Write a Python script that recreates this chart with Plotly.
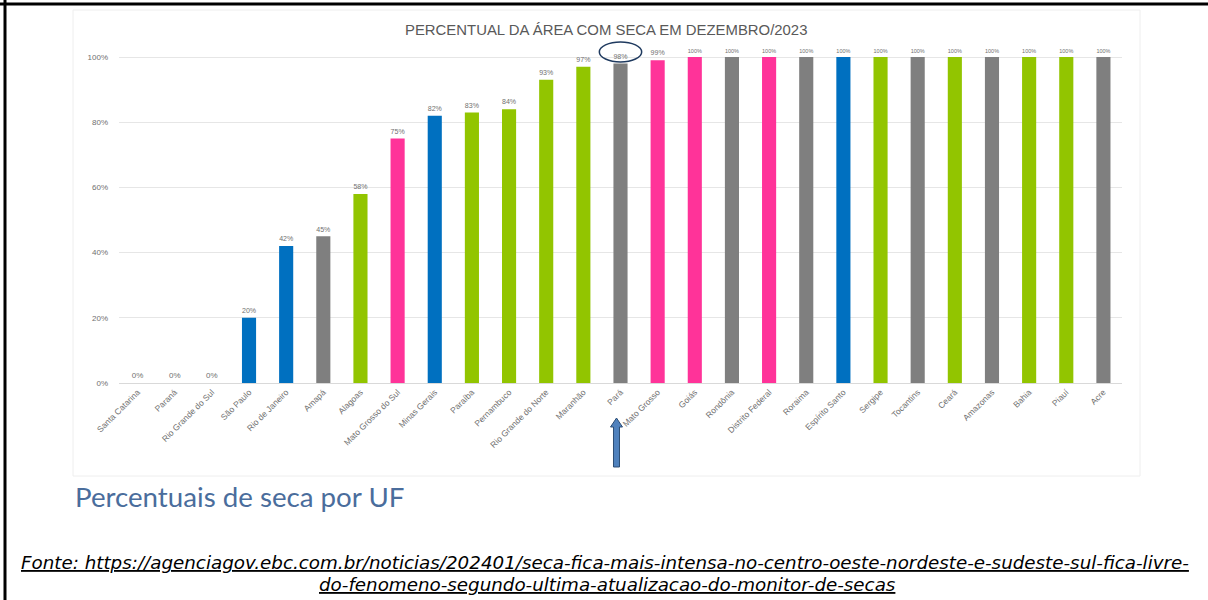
import plotly.graph_objects as go

W, H = 1208, 600

states = ["Santa Catarina", "Paraná", "Rio Grande do Sul", "São Paulo", "Rio de Janeiro",
          "Amapá", "Alagoas", "Mato Grosso do Sul", "Minas Gerais", "Paraíba",
          "Pernambuco", "Rio Grande do Norte", "Maranhão", "Pará", "Mato Grosso",
          "Goiás", "Rondônia", "Distrito Federal", "Roraima", "Espírito Santo",
          "Sergipe", "Tocantins", "Ceará", "Amazonas", "Bahia", "Piauí", "Acre"]
values = [0, 0, 0, 20, 42, 45, 58, 75, 82, 83, 84, 93, 97, 98, 99,
          100, 100, 100, 100, 100, 100, 100, 100, 100, 100, 100, 100]
regions = ["S", "S", "S", "SE", "SE", "N", "NE", "CO", "SE", "NE", "NE", "NE", "NE", "N", "CO",
           "CO", "N", "CO", "N", "SE", "NE", "N", "NE", "N", "NE", "NE", "N"]
region_colors = {"S": "#0070C0", "SE": "#0070C0", "N": "#7F7F7F", "NE": "#92C500", "CO": "#FF3399"}
y_ticks = [0, 20, 40, 60, 80, 100]
y_tick_labels = ["0%", "20%", "40%", "60%", "80%", "100%"]
highlight = "Pará"

colors = [region_colors[r] for r in regions]
labels = [f"{v}%" for v in values]

# layout geometry (pixels)
px_left, px_right = 119, 1122
py_zero, py_hundred = 383, 57
y_top_val = 112
py_top = py_zero - (py_zero - py_hundred) * y_top_val / 100
n = len(states)
step = (px_right - px_left) / n

fig = go.Figure(go.Bar(
    x=list(range(n)), y=values, marker_color=colors, marker_line_width=0,
    text=labels, textposition="outside", cliponaxis=False,
    textfont=dict(size=8, color="#707070", family="Liberation Sans"),
    width=0.38,
))

fig.update_layout(
    width=W, height=H, margin=dict(l=0, r=0, t=0, b=0, autoexpand=False),
    paper_bgcolor="white", plot_bgcolor="rgba(0,0,0,0)", showlegend=False,
    xaxis=dict(domain=[px_left / W, px_right / W], range=[-0.5, n - 0.5],
               tickmode="array", tickvals=list(range(n)), ticktext=states,
               tickangle=-45, tickfont=dict(size=8.5, color="#707070", family="Liberation Sans"),
               showgrid=False, showline=True, linecolor="#d9d9d9", linewidth=1,
               ticks="", zeroline=False, automargin=False),
    yaxis=dict(domain=[1 - py_zero / H, 1 - py_top / H], range=[0, y_top_val],
               tickmode="array", tickvals=y_ticks, ticktext=y_tick_labels,
               tickfont=dict(size=8, color="#707070", family="Liberation Sans"),
               showgrid=True, gridcolor="#e6e6e6", gridwidth=1, zeroline=False,
               showline=False, ticks="", ticklabelstandoff=10, automargin=False),
    bargap=0.6,
)

shapes = []
# faint frame of embedded chart image
shapes.append(dict(type="rect", xref="paper", yref="paper", layer="below",
                   x0=73 / W, x1=1140 / W, y0=1 - 476 / H, y1=1 - 10 / H,
                   line=dict(color="#eeeeee", width=1)))
# outer black frame lines (top and left)
shapes.append(dict(type="line", xref="paper", yref="paper", x0=0, x1=1,
                   y0=1 - 4 / H, y1=1 - 4 / H, line=dict(color="black", width=3)))
shapes.append(dict(type="line", xref="paper", yref="paper", x0=5 / W, x1=5 / W,
                   y0=0, y1=1, line=dict(color="black", width=3)))

hi = states.index(highlight)
hv = values[hi]
# ellipse around highlighted label
shapes.append(dict(type="circle", xref="x", yref="y",
                   x0=hi - 0.57, x1=hi + 0.57, y0=hv + 0.5, y1=hv + 6.6,
                   line=dict(color="#1f3a5f", width=1.5)))

# block arrow pointing to highlighted category
cx = px_left + (hi + 0.5) * step - 4
tip, bottom = 418, 467
hw, sw, hh = 6, 3, 9
pts = [(cx, tip), (cx + hw, tip + hh), (cx + sw, tip + hh), (cx + sw, bottom),
       (cx - sw, bottom), (cx - sw, tip + hh), (cx - hw, tip + hh)]
path = "M " + " L ".join(f"{x / W:.5f},{1 - y / H:.5f}" for x, y in pts) + " Z"
shapes.append(dict(type="path", xref="paper", yref="paper", path=path,
                   fillcolor="#4F81BD", line=dict(color="#2c4d75", width=1)))
fig.update_layout(shapes=shapes)

annotations = [
    dict(text="PERCENTUAL DA ÁREA COM SECA EM DEZEMBRO/2023", x=606 / W, y=1 - 30 / H,
         xref="paper", yref="paper", showarrow=False, xanchor="center", yanchor="middle",
         font=dict(size=14.9, color="#595959", family="Liberation Sans")),
    dict(text="Percentuais de seca por UF", x=73 / W, y=1 - 496 / H,
         xref="paper", yref="paper", showarrow=False, xanchor="left", yanchor="middle",
         font=dict(size=27.7, color="#4a6d9c", family="Lato")),
    dict(text="Fonte: https://agenciagov.ebc.com.br/noticias/202401/seca-fica-mais-intensa-no-centro-oeste-nordeste-e-sudeste-sul-fica-livre-",
         x=605 / W, y=1 - 562 / H, xref="paper", yref="paper", showarrow=False,
         xanchor="center", yanchor="middle",
         font=dict(size=18.3, color="black", family="DejaVu Sans", style="italic", lineposition="under")),
    dict(text="do-fenomeno-segundo-ultima-atualizacao-do-monitor-de-secas",
         x=607 / W, y=1 - 584 / H, xref="paper", yref="paper", showarrow=False,
         xanchor="center", yanchor="middle",
         font=dict(size=18.3, color="black", family="DejaVu Sans", style="italic", lineposition="under")),
]
fig.update_layout(annotations=annotations)

fig.write_html("out.html", config={"displayModeBar": False},
               post_script="document.body.style.margin='0';")
